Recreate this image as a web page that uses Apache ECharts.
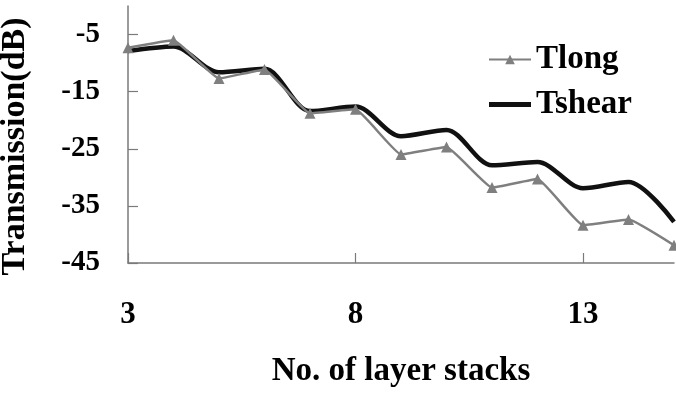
<!DOCTYPE html>
<html>
<head>
<meta charset="utf-8">
<script src="https://cdn.jsdelivr.net/npm/echarts@6/dist/echarts.min.js"></script>
<style>
  html, body { margin: 0; padding: 0; background: #fff; }
  #chart { width: 676px; height: 397px; }
</style>
</head>
<body>
<div id="chart"></div>
<script>
// Layer stack counts and transmission (dB) per mode
const layerStacks = [3, 4, 5, 6, 7, 8, 9, 10, 11, 12, 13, 14, 15];
const tlong  = [-7.3, -6.0, -12.7, -11.1, -18.8, -18.1, -26.0, -24.7, -31.8, -30.3, -38.4, -37.4, -41.9];
const tshear = [-7.9, -7.1, -11.6, -11.0, -18.4, -17.6, -22.8, -21.7, -27.9, -27.3, -31.9, -30.8, -37.8];
const xTicks = [3, 8, 13];
const yTicks = [-45, -35, -25, -15, -5];

const serif = '"Liberation Serif", "Times New Roman", serif';
const pairs = (vals) => layerStacks.map((x, i) => [x, vals[i]]);

const chart = echarts.init(document.getElementById('chart'), null, { renderer: 'canvas' });
chart.setOption({
  animation: false,
  backgroundColor: '#fff',
  grid: { left: 128, right: 2, top: 6, bottom: 134, containLabel: false, outerBoundsMode: 'none' },
  legend: {
    orient: 'vertical',
    left: 483,
    top: 38,
    itemWidth: 42,
    itemHeight: 12,
    itemGap: 12,
    textStyle: { fontFamily: serif, fontWeight: 'bold', fontSize: 33, color: '#000' },
    data: [
      'Tlong',
      // plain thick bar for the unmarked curve
      { name: 'Tshear', icon: 'path://M0 0H42V5H0Z' }
    ]
  },
  xAxis: {
    type: 'value',
    min: 3,
    max: 15,
    name: 'No. of layer stacks',
    nameLocation: 'middle',
    nameGap: 92,
    nameTextStyle: { fontFamily: serif, fontWeight: 'bold', fontSize: 33, color: '#000' },
    axisLine: { show: true, onZero: false, lineStyle: { color: '#7a7a7a', width: 1.5 } },
    axisTick: { show: true, inside: true, length: 10, customValues: xTicks, lineStyle: { color: '#7a7a7a', width: 1.2 } },
    axisLabel: { customValues: xTicks, margin: 36, fontFamily: serif, fontWeight: 'bold', fontSize: 31, color: '#000' },
    splitLine: { show: false }
  },
  yAxis: {
    type: 'value',
    min: -45,
    max: 0,
    name: 'Transmission(dB)',
    nameLocation: 'middle',
    nameGap: 96,
    nameRotate: 90,
    nameTextStyle: { fontFamily: serif, fontWeight: 'bold', fontSize: 34, color: '#000', padding: [0, 24, 0, 0] },
    axisLine: { show: true, onZero: false, lineStyle: { color: '#7a7a7a', width: 1.5 } },
    axisTick: { show: true, inside: true, length: 10, customValues: yTicks, lineStyle: { color: '#7a7a7a', width: 1.2 } },
    axisLabel: { customValues: yTicks, margin: 28, fontFamily: serif, fontWeight: 'bold', fontSize: 29, color: '#000' },
    splitLine: { show: false }
  },
  series: [
    {
      name: 'Tlong',
      type: 'line',
      data: pairs(tlong),
      smooth: 0.1,
      symbol: 'triangle',
      symbolSize: 11,
      itemStyle: { color: '#7f7f7f' },
      lineStyle: { color: '#7f7f7f', width: 2.5 },
      z: 3
    },
    {
      name: 'Tshear',
      type: 'line',
      data: pairs(tshear),
      smooth: 0.3,
      symbol: 'none',
      itemStyle: { color: '#111' },
      lineStyle: { color: '#111', width: 4.5 },
      z: 2
    }
  ]
});
</script>
</body>
</html>
